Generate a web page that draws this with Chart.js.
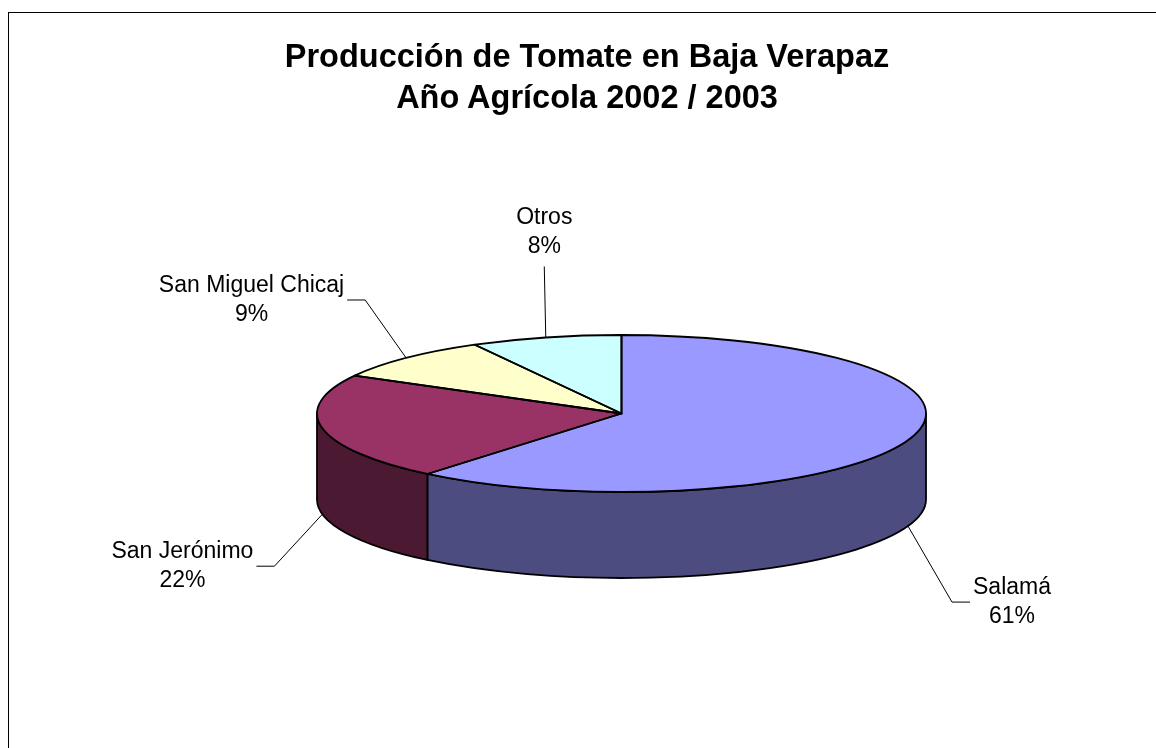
<!DOCTYPE html>
<html lang="es">
<head>
<meta charset="utf-8">
<title>Producción de Tomate en Baja Verapaz</title>
<script src="https://cdn.jsdelivr.net/npm/chart.js@4.4.1/dist/chart.umd.min.js"></script>
<style>
    html, body { margin: 0; padding: 0; background: #fff; overflow: hidden; }
    #marco { position: absolute; left: 8px; top: 12px; width: 1200px; height: 800px; border: 1px solid #000; box-sizing: border-box; }
    #grafico { position: absolute; left: 0; top: 0; }
    #titulo { position: absolute; left: 0; top: 36px; width: 1174px; text-align: center; color: #000;
              font: bold 32.5px/41px "Liberation Sans", Arial, sans-serif; }
</style>
</head>
<body>
<div id="marco"></div>
<canvas id="grafico" width="1156" height="748"></canvas>
<div id="titulo">Producción de Tomate en Baja Verapaz<br>Año Agrícola 2002 / 2003</div>
<script>
// datos
const municipios = ["Salamá", "San Jerónimo", "San Miguel Chicaj", "Otros"];
const produccion = [61, 22, 9, 8];

// colores de la cara superior y del costado
const coloresCara = ["#9999FF", "#993366", "#FFFFCC", "#CCFFFF"];
const coloresLado = ["#4C4C80", "#4C1933", "#808066", "#668080"];

// vista 3D
const inclinacion = 78.5 / 304.5;
const grosor = 86;

// desplazamiento del codo de cada linea guia respecto a su punto en la torta
const desvioEtiquetas = [[44, 76], [-48, 52], [-41, -58], [-1.5, -71]];

const fuenteEtiqueta = '23px "Liberation Sans", Arial, sans-serif';

const pastel3d = {
    id: 'pastel3d',
    beforeDatasetsDraw(chart) {
        const ctx = chart.ctx;
        const arcos = chart.getDatasetMeta(0).data;

        // costados visibles (mitad delantera)
        arcos.forEach((arco, i) => {
            const { x, y, startAngle, endAngle, outerRadius } = arco;
            const a = Math.max(startAngle, 0);
            const b = Math.min(endAngle, Math.PI);
            if (b <= a) return;
            const rx = outerRadius;
            const ry = outerRadius * inclinacion;
            ctx.beginPath();
            ctx.ellipse(x, y, rx, ry, 0, a, b);
            ctx.lineTo(x + rx * Math.cos(b), y + ry * Math.sin(b) + grosor);
            ctx.ellipse(x, y + grosor, rx, ry, 0, b, a, true);
            ctx.closePath();
            ctx.fillStyle = coloresLado[i];
            ctx.fill();
            ctx.lineWidth = 1.8;
            ctx.lineJoin = 'round';
            ctx.strokeStyle = '#000';
            ctx.stroke();
        });

        // aplastar la cara superior
        const { x, y } = arcos[0];
        ctx.save();
        ctx.translate(x, y);
        ctx.scale(1, inclinacion);
        ctx.translate(-x, -y);
    },
    afterDatasetsDraw(chart) {
        const ctx = chart.ctx;
        ctx.restore();
        const arcos = chart.getDatasetMeta(0).data;
        const total = produccion.reduce((s, v) => s + v, 0);

        // bordes de la cara superior
        ctx.lineWidth = 1.8;
        ctx.lineJoin = 'round';
        ctx.strokeStyle = '#000';
        arcos.forEach(arco => {
            const { x, y, startAngle, endAngle, outerRadius } = arco;
            ctx.beginPath();
            ctx.moveTo(x, y);
            ctx.ellipse(x, y, outerRadius, outerRadius * inclinacion, 0, startAngle, endAngle);
            ctx.closePath();
            ctx.stroke();
        });

        // etiquetas con lineas guia
        ctx.font = fuenteEtiqueta;
        ctx.fillStyle = '#000';
        ctx.textAlign = 'center';
        ctx.textBaseline = 'middle';
        ctx.lineWidth = 1;
        arcos.forEach((arco, i) => {
            const { x, y, startAngle, endAngle, outerRadius } = arco;
            const medio = (startAngle + endAngle) / 2;
            let px = x + outerRadius * Math.cos(medio);
            let py = y + outerRadius * inclinacion * Math.sin(medio);
            if (Math.sin(medio) > 0) py += grosor;

            const [dx, dy] = desvioEtiquetas[i];
            const cx = px + dx, cy = py + dy;
            const lineas = [municipios[i], Math.round(produccion[i] / total * 100) + '%'];
            const ancho = Math.max(...lineas.map(t => ctx.measureText(t).width));

            ctx.beginPath();
            ctx.moveTo(px, py);
            ctx.lineTo(cx, cy);
            if (Math.abs(dx) < 10) {
                ctx.stroke();
                ctx.fillText(lineas[0], cx, cy - 48.5);
                ctx.fillText(lineas[1], cx, cy - 20);
                return;
            }
            const lado = dx > 0 ? 1 : -1;
            const fin = cx + lado * 18;
            ctx.lineTo(fin, cy);
            ctx.stroke();
            const centro = fin + lado * (3 + ancho / 2);
            ctx.fillText(lineas[0], centro, cy - 14.5);
            ctx.fillText(lineas[1], centro, cy + 14.5);
        });
    }
};

new Chart(document.getElementById('grafico'), {
    type: 'pie',
    data: {
        labels: municipios,
        datasets: [{
            data: produccion,
            backgroundColor: coloresCara,
            borderWidth: 0,
            radius: 304.5,
            clip: false
        }]
    },
    options: {
        responsive: false,
        animation: false,
        events: [],
        layout: { padding: { left: 87, right: 0, top: 79, bottom: 0 } },
        plugins: {
            legend: { display: false },
            tooltip: { enabled: false },
            title: { display: false }
        }
    },
    plugins: [pastel3d]
});
</script>
</body>
</html>
